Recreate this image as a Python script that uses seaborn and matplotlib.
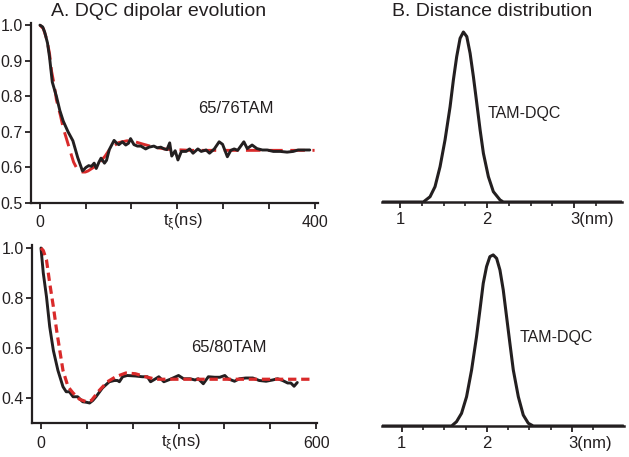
import numpy as np
import pandas as pd
import seaborn as sns
import matplotlib.pyplot as plt

# A. DQC dipolar evolution, 65/76TAM (t in ns)
t_76 = [0, 4, 7, 11, 14, 18, 21, 24, 29, 34, 41, 48, 55, 62, 67, 71, 75, 79, 82, 86,
        89, 94, 97, 101, 108, 112, 115, 120, 125, 129, 132, 137, 142, 147, 154, 159, 166,
        171, 176, 181, 185, 189, 192, 197, 201, 206, 213, 218, 223, 230, 235, 242, 247,
        254, 261, 266, 273, 278, 283, 288, 297, 302, 309, 316, 324, 331, 340, 350, 360,
        369, 376, 385, 393]
sig_76 = [1.0, 0.995, 0.98, 0.95, 0.91, 0.84, 0.82, 0.80, 0.76, 0.73, 0.70, 0.675, 0.628,
          0.59, 0.60, 0.605, 0.603, 0.612, 0.597, 0.615, 0.626, 0.612, 0.62, 0.65, 0.676,
          0.668, 0.664, 0.672, 0.663, 0.668, 0.681, 0.664, 0.66, 0.66, 0.652, 0.657, 0.66,
          0.655, 0.657, 0.652, 0.65, 0.669, 0.632, 0.647, 0.621, 0.645, 0.645, 0.652, 0.64,
          0.652, 0.645, 0.649, 0.64, 0.652, 0.672, 0.665, 0.63, 0.648, 0.652, 0.648, 0.672,
          0.653, 0.663, 0.653, 0.649, 0.649, 0.645, 0.645, 0.643, 0.645, 0.649, 0.649, 0.649]
tfit_76 = [0, 5, 10, 14, 17, 21, 24, 30, 34, 38, 45, 49, 53, 58, 62, 66, 70, 78, 86, 95,
           103, 115, 127, 137, 151, 166, 185, 220, 300, 400]
fit_76 = [1.0, 0.99, 0.96, 0.92, 0.87, 0.83, 0.79, 0.745, 0.71, 0.685, 0.64, 0.615, 0.60,
          0.59, 0.587, 0.587, 0.59, 0.60, 0.612, 0.632, 0.655, 0.67, 0.675, 0.673, 0.665,
          0.657, 0.651, 0.648, 0.648, 0.648]

# 65/80TAM
t_80 = [0, 5, 12, 19, 27, 37, 48, 55, 62, 70, 80, 91, 99, 106, 113, 120, 134, 149, 160,
        167, 171, 178, 188, 206, 221, 232, 239, 250, 257, 268, 282, 300, 311, 325, 336,
        343, 354, 365, 379, 390, 401, 408, 422, 433, 447, 462, 476, 491, 505, 516, 527,
        538, 545, 552, 559]
sig_80 = [1.0, 0.9, 0.805, 0.685, 0.59, 0.51, 0.445, 0.425, 0.425, 0.405, 0.405, 0.385,
          0.383, 0.38, 0.39, 0.405, 0.44, 0.465, 0.47, 0.47, 0.465, 0.485, 0.49, 0.488,
          0.485, 0.485, 0.465, 0.477, 0.485, 0.465, 0.475, 0.49, 0.477, 0.477, 0.472,
          0.477, 0.457, 0.485, 0.483, 0.483, 0.49, 0.477, 0.467, 0.477, 0.48, 0.48, 0.47,
          0.467, 0.472, 0.477, 0.47, 0.46, 0.46, 0.447, 0.462]
tfit_80 = [0, 5, 12, 19, 27, 34, 41, 48, 59, 70, 84, 99, 110, 127, 145, 163, 185, 206,
           228, 250, 300, 400, 500, 590]
fit_80 = [1.0, 0.99, 0.952, 0.86, 0.765, 0.672, 0.59, 0.51, 0.445, 0.42, 0.395, 0.385,
          0.39, 0.43, 0.465, 0.485, 0.50, 0.497, 0.485, 0.475, 0.475, 0.475, 0.475, 0.475]

# B. Distance distributions (r in nm)
r_76 = [0.8, 1.268, 1.345, 1.402, 1.46, 1.517, 1.575, 1.613, 1.651, 1.69, 1.728, 1.767,
        1.805, 1.843, 1.882, 1.92, 1.958, 2.015, 2.072, 2.149, 2.187, 3.55]
p_76 = [0, 0, 0.031, 0.09, 0.208, 0.365, 0.56, 0.718, 0.855, 0.963, 1.0, 0.973, 0.875,
        0.737, 0.58, 0.424, 0.286, 0.149, 0.061, 0.012, 0, 0]
r_80 = [0.77, 1.585, 1.643, 1.702, 1.761, 1.82, 1.878, 1.918, 1.957, 1.996, 2.035, 2.074,
        2.114, 2.153, 2.192, 2.231, 2.27, 2.31, 2.369, 2.427, 2.486, 2.545, 3.6]
p_80 = [0, 0, 0.025, 0.074, 0.171, 0.327, 0.522, 0.678, 0.834, 0.932, 0.99, 1.0, 0.98,
        0.912, 0.795, 0.639, 0.483, 0.327, 0.171, 0.064, 0.016, 0, 0]

black = '#231f20'
red = '#d92a2a'

sns.set_style('ticks')
plt.rcParams['font.family'] = ['Liberation Sans', 'DejaVu Sans']
plt.rcParams['mathtext.fontset'] = 'custom'
plt.rcParams['mathtext.rm'] = 'Liberation Sans'
plt.rcParams['mathtext.it'] = 'Liberation Sans'

fig = plt.figure(figsize=(6.29, 4.57), dpi=100)
W, H = 629, 457

def px_axes(x0, y_top, x1, y_bot):
    return fig.add_axes([x0 / W, 1 - y_bot / H, (x1 - x0) / W, (y_bot - y_top) / H])

ax1 = px_axes(31, 23, 318, 203)
ax2 = px_axes(32, 245, 317, 423)
ax3 = px_axes(382, 23, 622, 202)
ax4 = px_axes(382, 245, 624, 426)

# top left
sns.lineplot(x=tfit_76, y=fit_76, ax=ax1, color=red, lw=2.1, sort=False)
ax1.lines[-1].set_dashes([5, 2.6])
sns.lineplot(x=t_76, y=sig_76, ax=ax1, color=black, lw=2.1, sort=False)
ax1.set_xlim(-13, 405)
ax1.set_ylim(0.5, 1.006)
ax1.set_xticks(np.linspace(0, 400, 7))
ax1.set_xticklabels(['0', '', '', '', '', '', '400'])
ax1.set_yticks([0.5, 0.6, 0.7, 0.8, 0.9, 1.0])
ax1.set_yticklabels(['0.5', '0.6', '0.7', '0.8', '0.9', '1.0'])
ax1.text(285, 0.767, '65/76TAM', ha='center', va='center', fontsize=12, color=black)
ax1.set_title('A. DQC dipolar evolution', fontsize=14, pad=5, color=black, x=0.445)

# bottom left
sns.lineplot(x=t_80, y=sig_80, ax=ax2, color=black, lw=2.1, sort=False)
sns.lineplot(x=tfit_80, y=fit_80, ax=ax2, color=red, lw=2.3, sort=False)
ax2.lines[-1].set_dashes([2.6, 1.5])
ax2.set_xlim(-19.6, 602)
ax2.set_ylim(0.3, 1.012)
ax2.set_xticks(np.linspace(0, 600, 7))
ax2.set_xticklabels(['0', '', '', '', '', '', '600'])
ax2.set_yticks([0.4, 0.6, 0.8, 1.0])
ax2.set_yticklabels(['0.4', '0.6', '0.8', '1.0'])
ax2.text(410, 0.6, '65/80TAM', ha='center', va='center', fontsize=12, color=black)

for ax, xl, yl in [(ax1, 0.53, -0.105), (ax2, 0.523, -0.112)]:
    ax.set_xlabel(r't$_{\xi}$(ns)', fontsize=12, va='center', color=black)
    ax.xaxis.set_label_coords(xl, yl)
    ax.set_ylabel('')
    sns.despine(ax=ax)
    ax.tick_params(axis='both', length=4, width=1.3, labelsize=11.5, colors=black, pad=2)
    ax.tick_params(axis='x', pad=5)
    for s in ['left', 'bottom']:
        ax.spines[s].set_linewidth(1.6)
        ax.spines[s].set_color(black)

# right panels
sns.lineplot(x=r_76, y=p_76, ax=ax3, color=black, lw=2.2, sort=False)
sns.lineplot(x=r_80, y=p_80, ax=ax4, color=black, lw=2.2, sort=False)
ax3.set_xlim(0.793, 3.55)
ax3.set_ylim(0, 1.053)
ax4.set_xlim(0.768, 3.61)
ax4.set_ylim(0, 1.058)
ax3.text(2.43, 0.52, 'TAM-DQC', ha='center', va='center', fontsize=11.5, color=black)
ax4.text(2.81, 0.515, 'TAM-DQC', ha='center', va='center', fontsize=11.5, color=black)
ax3.set_title('B. Distance distribution', fontsize=14, pad=5, color=black, x=0.46)

for ax in [ax3, ax4]:
    sns.despine(ax=ax, left=True)
    ax.set_yticks([])
    ax.set_ylabel('')
    ax.set_xticks([1, 2, 3])
    ax.set_xticklabels(['1', '2', ''])
    ax.set_xticks(np.arange(1.25, 3.5, 0.25), minor=True)
    ax.tick_params(axis='x', which='major', length=4, width=1.3, labelsize=12,
                   colors=black, pad=3)
    ax.tick_params(axis='x', which='minor', length=3, width=1.2, colors=black)
    ax.spines['bottom'].set_linewidth(1.8)
    ax.spines['bottom'].set_color(black)
    ax.text(2.96, -0.056, '3(nm)', ha='left', va='top', fontsize=12, color=black,
            transform=ax.get_xaxis_transform())

fig.savefig('out.png', dpi=100)
